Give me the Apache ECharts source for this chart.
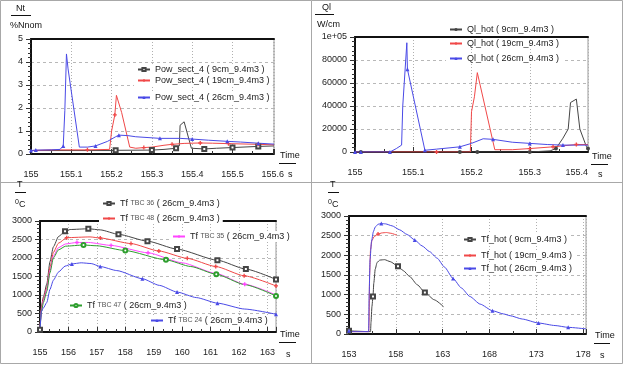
<!DOCTYPE html>
<html><head><meta charset="utf-8">
<script src="https://cdn.jsdelivr.net/npm/echarts@6/dist/echarts.min.js"></script>
<style>html,body{margin:0;padding:0;background:#fff}#c{width:625px;height:366px}</style>
</head><body><div id="c"></div>
<script>
// ---------- Panel 1: Nt, Pow_sect_4 ----------
const p1Names = ['Pow_sect_4 ( 9cm_9.4m3 )', 'Pow_sect_4 ( 19cm_9.4m3 )', 'Pow_sect_4 ( 26cm_9.4m3 )'];
const p1BlackT = [155, 155.1, 155.2, 155.21, 155.3, 155.33, 155.36, 155.368, 155.37, 155.38, 155.398, 155.43, 155.46, 155.5, 155.564, 155.603];
const p1BlackV = [0.15, 0.15, 0.15, 0.16, 0.17, 0.2, 0.25, 0.35, 1.25, 1.4, 0.25, 0.22, 0.25, 0.28, 0.33, 0.35];
const p1BlackM = [155.21, 155.3, 155.36, 155.43, 155.5, 155.564];
const p1RedT = [155, 155.05, 155.14, 155.195, 155.2, 155.208, 155.212, 155.225, 155.245, 155.26, 155.28, 155.3, 155.33, 155.35, 155.38, 155.42, 155.45, 155.49, 155.564, 155.603];
const p1RedV = [0.15, 0.18, 0.18, 0.2, 1.0, 1.7, 2.55, 1.8, 0.3, 0.25, 0.28, 0.3, 0.38, 0.42, 0.46, 0.48, 0.47, 0.45, 0.42, 0.4];
const p1RedM = [155.14, 155.208, 155.28, 155.35, 155.42, 155.49, 155.564];
const p1BlueT = [155, 155.012, 155.05, 155.072, 155.08, 155.084, 155.088, 155.092, 155.12, 155.14, 155.16, 155.19, 155.21, 155.218, 155.24, 155.26, 155.32, 155.37, 155.4, 155.44, 155.487, 155.52, 155.564, 155.603];
const p1BlueV = [0.15, 0.17, 0.18, 0.2, 0.35, 1.9, 4.35, 3.7, 0.3, 0.3, 0.35, 0.55, 0.75, 0.82, 0.8, 0.75, 0.68, 0.68, 0.65, 0.6, 0.55, 0.52, 0.47, 0.43];
const p1BlueM = [155, 155.012, 155.08, 155.16, 155.218, 155.32, 155.4, 155.487, 155.564];

// ---------- Panel 2: Ql, Ql_hot ----------
const p2Names = ['Ql_hot ( 9cm_9.4m3 )', 'Ql_hot ( 19cm_9.4m3 )', 'Ql_hot ( 26cm_9.4m3 )'];
const p2BlackT = [155, 155.01, 155.18, 155.21, 155.3, 155.335, 155.345, 155.357, 155.366, 155.37, 155.38, 155.386, 155.397, 155.4];
const p2BlackV = [0, 0, 0, 0, 0, 1000, 3000, 12000, 20000, 43000, 46000, 20000, 5000, 3000];
const p2BlackM = [155.01, 155.18, 155.21, 155.3, 155.345, 155.4];
const p2RedT = [155, 155.14, 155.198, 155.2, 155.205, 155.21, 155.24, 155.27, 155.3, 155.34, 155.38, 155.4];
const p2RedV = [0, 0, 0, 35000, 48000, 69000, 2000, 2000, 3000, 4500, 6500, 6500];
const p2RedM = [155.14, 155.3, 155.34, 155.38];
const p2BlueT = [155, 155.01, 155.06, 155.071, 155.08, 155.082, 155.089, 155.09, 155.12, 155.14, 155.18, 155.2, 155.22, 155.237, 155.27, 155.3, 155.33, 155.357, 155.4];
const p2BlueV = [0, 0, 0, 3000, 6000, 40000, 95000, 72000, 1500, 2500, 4500, 7500, 11500, 11000, 8500, 7500, 6500, 6000, 6000];
const p2BlueM = [155, 155.01, 155.06, 155.09, 155.12, 155.18, 155.237, 155.3, 155.357];

// ---------- Panel 3: T, Tf TBC ----------
const p3Names = ['Tf TBC 36 ( 26cm_9.4m3 )', 'Tf TBC 48 ( 26cm_9.4m3 )', 'Tf TBC 35 ( 26cm_9.4m3 )', 'Tf TBC 47 ( 26cm_9.4m3 )', 'Tf TBC 24 ( 26cm_9.4m3 )'];
const p3BlackT = [155, 155.05, 155.12, 155.24, 155.35, 155.47, 155.65, 155.88, 156.06, 156.7, 157.12, 157.76, 158.78, 159.82, 161.24, 162.24, 163.3];
const p3BlackV = [60, 700, 950, 1300, 1900, 2300, 2580, 2720, 2770, 2790, 2760, 2640, 2455, 2240, 1940, 1700, 1420];
const p3BlackM = [155, 155.88, 156.7, 157.76, 158.78, 159.82, 161.24, 162.24, 163.3];
const p3RedT = [155, 155.05, 155.12, 155.24, 155.35, 155.47, 155.65, 155.94, 156.76, 157.12, 158.2, 159.18, 160.18, 161.18, 162.18, 163.3];
const p3RedV = [60, 650, 900, 1200, 1750, 2150, 2400, 2550, 2570, 2540, 2390, 2190, 1990, 1770, 1520, 1245];
const p3RedM = [155.94, 157.12, 158.2, 159.18, 160.18, 161.18, 162.18, 163.3];
const p3MagT = [155, 155.05, 155.12, 155.24, 155.35, 155.47, 155.65, 155.9, 156.3, 156.7, 157.5, 158.8, 160, 161.2, 162.2, 163.3];
const p3MagV = [60, 600, 850, 1150, 1650, 2050, 2280, 2380, 2420, 2420, 2340, 2140, 1870, 1580, 1290, 1000];
const p3MagM = [156.3, 157.5, 158.8, 162.2];
const p3GreenT = [155, 155.05, 155.12, 155.24, 155.35, 155.47, 155.65, 155.9, 156.53, 157, 158, 159.43, 160.3, 161.2, 162.2, 163.3];
const p3GreenV = [60, 550, 800, 1100, 1600, 2000, 2220, 2320, 2350, 2330, 2200, 1950, 1770, 1560, 1280, 975];
const p3GreenM = [156.53, 158, 159.43, 161.2, 163.3];
const p3BlueT = [155, 155.05, 155.12, 155.24, 155.35, 155.47, 155.65, 155.88, 156.12, 156.45, 156.8, 157.12, 157.7, 158.6, 159.2, 159.82, 160.5, 161.24, 162.2, 163.3];
const p3BlueV = [50, 550, 650, 800, 1150, 1400, 1620, 1780, 1840, 1870, 1850, 1770, 1660, 1440, 1260, 1080, 930, 780, 620, 480];
const p3BlueM = [156.12, 157.12, 158.6, 159.82, 161.24, 163.3];

// ---------- Panel 4: T, Tf_hot ----------
const p4Names = ['Tf_hot ( 9cm_9.4m3 )', 'Tf_hot ( 19cm_9.4m3 )', 'Tf_hot ( 26cm_9.4m3 )'];
const p4BlackT = [153, 155.3, 155.35, 155.45, 155.56, 155.65, 155.8, 156.0, 156.3, 156.8, 157.4, 158.23, 158.8, 159.48, 160.3, 161.1, 162.1, 163.1];
const p4BlackV = [80, 60, 300, 700, 955, 1300, 1650, 1820, 1880, 1890, 1840, 1723, 1610, 1461, 1250, 1056, 870, 693];
const p4BlackM = [153, 155.56, 158.23, 161.1];
const p4RedT = [153, 155.1, 155.14, 155.2, 155.3, 155.45, 155.7, 156.1, 156.5, 157.0, 157.5, 158.1];
const p4RedV = [60, 60, 300, 1500, 2150, 2380, 2480, 2540, 2570, 2580, 2560, 2510];
const p4RedM = [156.1];
const p4BlueT = [153, 153.3, 155.1, 155.15, 155.25, 155.4, 155.6, 155.8, 156.1, 156.45, 156.9, 157.6, 158.4, 159.2, 160.02, 160.8, 161.6, 162.4, 163.2, 164.11, 165, 165.9, 167, 168.31, 169.5, 170.2, 171.5, 173.23, 175, 176.4, 178.3];
const p4BlueV = [80, 60, 60, 1000, 1900, 2350, 2600, 2720, 2790, 2810, 2800, 2750, 2650, 2530, 2390, 2240, 2095, 1930, 1700, 1411, 1170, 954, 760, 592, 510, 465, 380, 279, 215, 169, 130];
const p4BlueM = [153, 156.45, 160.02, 164.11, 168.31, 173.23, 176.4];

// ---------- styling ----------
const FONT = "'Liberation Sans', Arial, sans-serif";
const BLACK = '#454545', RED = '#f04848', BLUE = '#4a4ae6', MAG = '#ff44ff', GREEN = '#2e9e2e';
const PLUS = 'path://M2,0H4V2H6V4H4V6H2V4H0V2H2Z';

function mk(name, t, v, marks, color, symbol, idx, smooth) {
  return {
    type: 'line', name, xAxisIndex: idx * 2, yAxisIndex: idx,
    data: t.map((x, i) => marks.includes(x) ? [x, v[i]] : { value: [x, v[i]], symbol: 'none' }),
    symbol, symbolSize: 4, showSymbol: true, showAllSymbol: true,
    smooth: smooth ? 0.2 : false, smoothMonotone: smooth ? 'x' : undefined,
    lineStyle: { width: 1, color }, itemStyle: { color, borderWidth: 1 },
    animation: false
  };
}
const grids = [
  { left: 31, top: 39, right: 351, bottom: 212 },
  { left: 355, top: 37, right: 37, bottom: 214 },
  { left: 40, top: 221, right: 349, bottom: 34 },
  { left: 349, top: 216, right: 39, bottom: 32 }
].map(g => Object.assign(g, { show: true, borderColor: '#9a9a9a', borderWidth: 1, backgroundColor: '#fff' }));

const xSpecs = [
  { min: 155, max: 155.603, interval: 0.1, minor: 2, ok: v => Math.abs(v * 10 - Math.round(v * 10)) < 1e-6, fmt: v => String(Math.round(v * 10) / 10) },
  { min: 155, max: 155.4, interval: 0.1, minor: 2, alignMax: 'right', ok: v => Math.abs(v * 10 - Math.round(v * 10)) < 1e-6, fmt: v => String(Math.round(v * 10) / 10) },
  { min: 155, max: 163.3, interval: 1, minor: 3, ok: v => Math.abs(v - Math.round(v)) < 1e-6, fmt: v => String(Math.round(v)) },
  { min: 153, max: 178.3, interval: 5, minor: 2, ok: v => Math.abs((v - 153) / 5 - Math.round((v - 153) / 5)) < 1e-6, fmt: v => String(Math.round(v)) }
];
const ySpecs = [
  { min: 0, max: 5, interval: 1, fmt: v => String(v) },
  { min: 0, max: 100000, interval: 20000, fmt: v => v === 100000 ? '1e+05' : String(v) },
  { min: 0, max: 3000, interval: 500, fmt: v => String(v) },
  { min: 0, max: 3000, interval: 500, fmt: v => String(v) }
];
const xAxis = [], yAxis = [];
xSpecs.forEach((s, i) => {
  const lab = { margin: 16, fontSize: 9, fontFamily: FONT, color: '#222', formatter: v => s.ok(v) ? s.fmt(v) : '' };
  if (s.alignMax) lab.alignMaxLabel = s.alignMax;
  xAxis.push({
    type: 'value', gridIndex: i, min: s.min, max: s.max, interval: s.interval, position: 'bottom',
    axisLine: { show: true, onZero: false, lineStyle: { color: '#111', width: 2 } },
    axisTick: { show: true, inside: true, length: 5, lineStyle: { color: '#333' } },
    minorTick: { show: true, splitNumber: s.minor, length: 3, lineStyle: { color: '#333' } },
    axisLabel: lab,
    splitLine: { show: true, lineStyle: { color: '#b0b0b0', type: [1, 2], width: 1 } }
  });
  xAxis.push({
    type: 'value', gridIndex: i, min: s.min, max: s.max, position: 'top',
    axisLine: { show: true, onZero: false, lineStyle: { color: '#111', width: 2 } },
    axisTick: { show: false }, axisLabel: { show: false }, splitLine: { show: false }
  });
});
ySpecs.forEach((s, i) => {
  yAxis.push({
    type: 'value', gridIndex: i, min: s.min, max: s.max, interval: s.interval,
    axisLine: { show: true, onZero: false, lineStyle: { color: '#111', width: 2 } },
    axisTick: { show: true, length: 5, lineStyle: { color: '#333' } },
    minorTick: { show: true, splitNumber: 5, length: 3, lineStyle: { color: '#333' } },
    axisLabel: { margin: 8, fontSize: 9, fontFamily: FONT, color: '#222', formatter: s.fmt },
    splitLine: { show: true, lineStyle: { color: '#b8b8b8', type: [3, 3], width: 1 } }
  });
});

const series = [
  mk(p1Names[0], p1BlackT, p1BlackV, p1BlackM, BLACK, 'emptyRect', 0, false),
  mk(p1Names[1], p1RedT, p1RedV, p1RedM, RED, PLUS, 0, false),
  mk(p1Names[2], p1BlueT, p1BlueV, p1BlueM, BLUE, 'triangle', 0, false),
  mk(p2Names[0], p2BlackT, p2BlackV, p2BlackM, BLACK, 'circle', 1, false),
  mk(p2Names[1], p2RedT, p2RedV, p2RedM, RED, PLUS, 1, false),
  mk(p2Names[2], p2BlueT, p2BlueV, p2BlueM, BLUE, 'triangle', 1, false),
  mk(p3Names[0], p3BlackT, p3BlackV, p3BlackM, BLACK, 'emptyRect', 2, true),
  mk(p3Names[1], p3RedT, p3RedV, p3RedM, RED, PLUS, 2, true),
  mk(p3Names[2], p3MagT, p3MagV, p3MagM, MAG, PLUS, 2, true),
  mk(p3Names[3], p3GreenT, p3GreenV, p3GreenM, GREEN, 'emptyCircle', 2, true),
  mk(p3Names[4], p3BlueT, p3BlueV, p3BlueM, BLUE, 'triangle', 2, true),
  mk(p4Names[0], p4BlackT, p4BlackV, p4BlackM, BLACK, 'emptyRect', 3, true),
  mk(p4Names[1], p4RedT, p4RedV, p4RedM, RED, PLUS, 3, true),
  mk(p4Names[2], p4BlueT, p4BlueV, p4BlueM, BLUE, 'triangle', 3, true)
];

function lg(name, left, top, rich) {
  const o = {
    data: [name], left, top, orient: 'horizontal', padding: [1, 3], itemWidth: 12, itemHeight: 4,
    backgroundColor: '#fff', selectedMode: false, itemGap: 0,
    textStyle: { fontSize: 9, fontFamily: FONT, color: '#222' }
  };
  if (rich) {
    o.formatter = n => n.replace(/^Tf (TBC \d+) /, 'Tf {s|$1} ');
    o.textStyle.rich = { s: { fontSize: 7, fontFamily: FONT, color: '#555' } };
  }
  return o;
}
const legend = [
  lg(p1Names[0], 134, 64), lg(p1Names[1], 134, 75), lg(p1Names[2], 134, 92),
  lg(p2Names[0], 446, 24), lg(p2Names[1], 446, 38), lg(p2Names[2], 446, 53),
  lg(p3Names[0], 99, 198, true), lg(p3Names[1], 99, 213, true), lg(p3Names[2], 169, 231, true),
  lg(p3Names[3], 66, 300, true), lg(p3Names[4], 147, 315, true),
  lg(p4Names[0], 460, 234), lg(p4Names[1], 460, 250), lg(p4Names[2], 460, 263)
];

const txt = (x, y, text, extra) => ({ type: 'text', left: x, top: y, style: Object.assign({ text, fontSize: 9, fontFamily: FONT, fill: '#111' }, extra || {}), z: 10 });
const ln = (x1, y1, x2, y2, c, w) => ({ type: 'line', shape: { x1, y1, x2, y2 }, style: { stroke: c || '#111', lineWidth: w || 1 }, z: 10, silent: true });
const degC = (x, y) => ({ type: 'text', left: x, top: y, z: 10, style: { text: '{s|0}C', fontSize: 9, fontFamily: FONT, fill: '#111', rich: { s: { fontSize: 7, verticalAlign: 'top', padding: [0, 0, 5, 0] } } } });
const graphic = [
  { type: 'rect', shape: { x: 0.5, y: 0.5, width: 622, height: 363 }, style: { fill: null, stroke: '#a8a8a8', lineWidth: 1 }, z: 9, silent: true },
  ln(311.5, 0.5, 311.5, 363.5, '#a8a8a8', 1), ln(0.5, 182.5, 622.5, 182.5, '#a8a8a8', 1),
  // panel 1 titles
  txt(16, 4, 'Nt'), ln(11, 15.5, 31, 15.5), txt(10, 21, '%Nnom'),
  txt(280, 151, 'Time'), ln(279, 163.5, 296, 163.5), txt(288, 170, 's'),
  // panel 2
  txt(322, 3, 'Ql'), ln(315, 14.5, 334, 14.5), txt(317, 20, 'W/cm'),
  txt(592, 152, 'Time'), ln(591, 164.5, 608, 164.5), txt(598, 170, 's'),
  // panel 3
  txt(17, 180, 'T'), ln(15, 192.5, 26, 192.5), degC(15, 199),
  txt(280, 330, 'Time'), ln(279, 342.5, 296, 342.5), txt(286, 350, 's'),
  // panel 4
  txt(330, 180, 'T'), ln(328, 192.5, 339, 192.5), degC(328, 199),
  txt(595, 331, 'Time'), ln(594, 343.5, 610, 343.5), txt(600, 351, 's')
];

const chart = echarts.init(document.getElementById('c'), null, { renderer: 'canvas' });
chart.setOption({ animation: false, backgroundColor: '#fff', grid: grids, xAxis, yAxis, series, legend, graphic });
</script></body></html>
